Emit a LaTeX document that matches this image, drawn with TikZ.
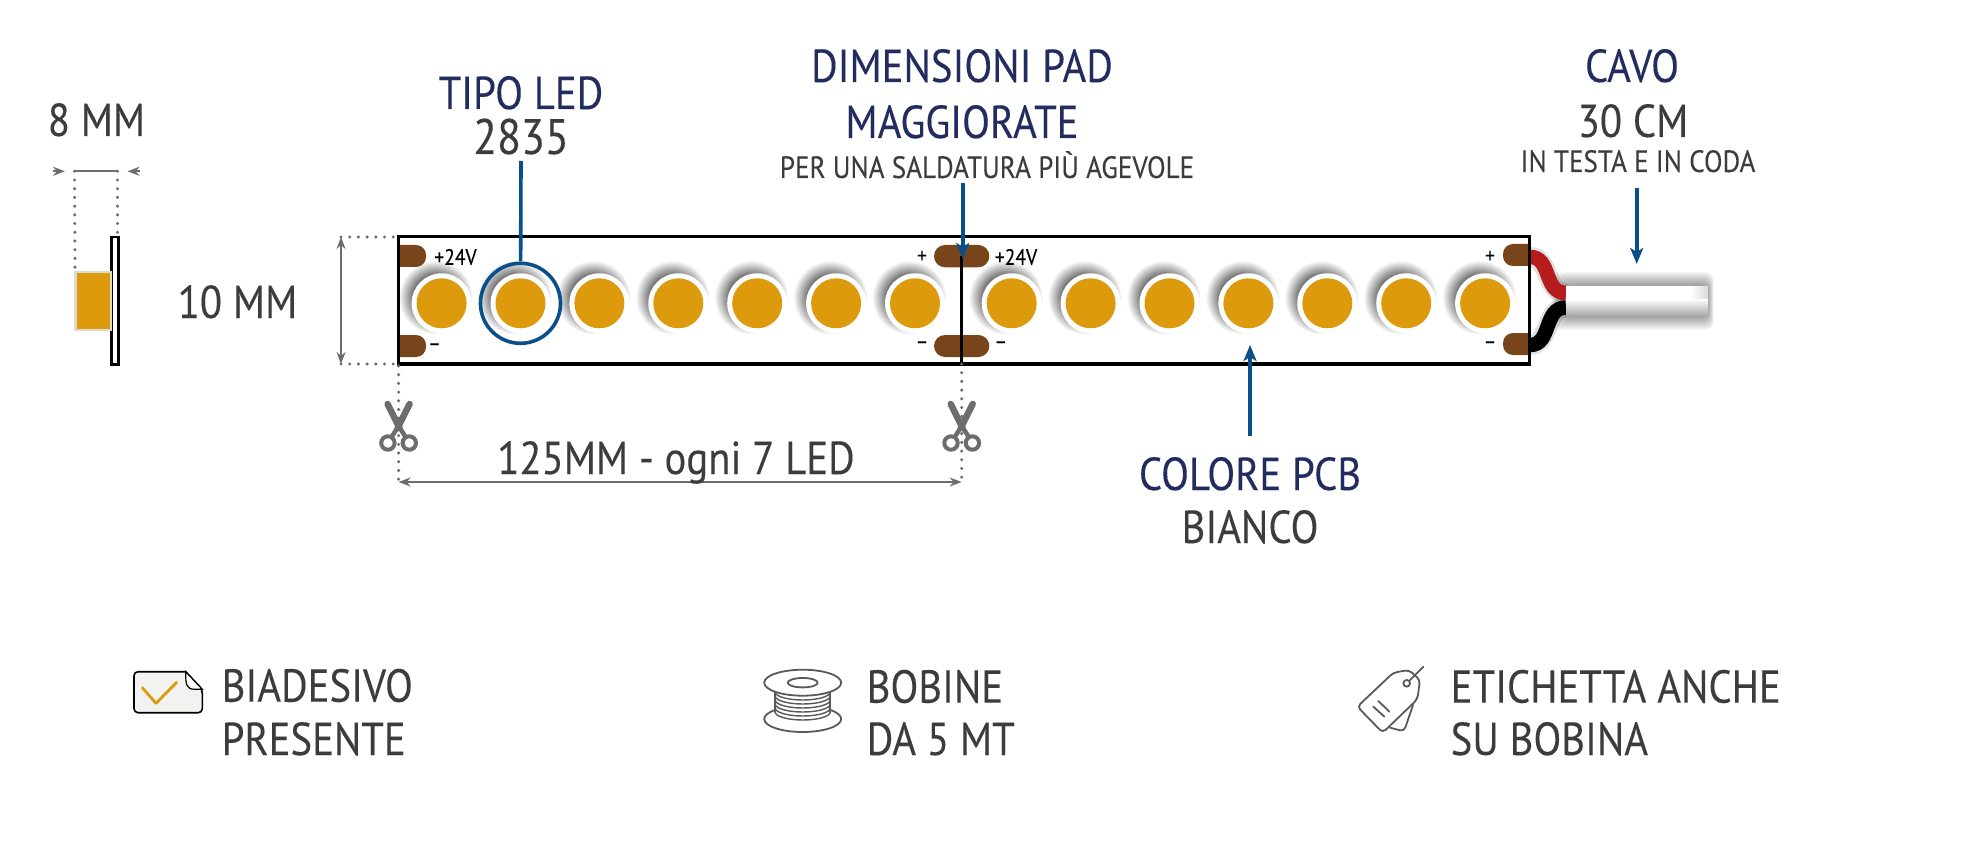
\documentclass[tikz,border=0pt]{standalone}
\usepackage{fontspec}
\usepackage{tikz}
\usetikzlibrary{arrows.meta}
\setmainfont{PT Sans}[FakeStretch=0.88,FakeBold=0.12]
\definecolor{ledyellow}{HTML}{DC9A0C}
\definecolor{ledborder}{HTML}{DDDDCC}
\definecolor{padbrown}{HTML}{774519}
\definecolor{linkblue}{HTML}{0B4F8A}
\definecolor{titlenavy}{HTML}{232C5E}
\definecolor{textgray}{HTML}{3C3C3B}
\definecolor{dimgray}{HTML}{6D6D6D}
\definecolor{wirered}{HTML}{B71C1C}
\definecolor{stickerfill}{HTML}{F2F2F0}
\definecolor{glowgray}{HTML}{606060}
\pgfdeclareradialshading{ledglow}{\pgfpointorigin}{color(0bp)=(glowgray); color(14bp)=(glowgray); color(25bp)=(white); color(50bp)=(white)}

\tikzset{
	bigtext/.style={anchor=base,inner sep=0pt,text=textgray,font=\fontsize{13.15}{15}\selectfont},
	titletext/.style={bigtext,text=titlenavy,font=\fontsize{13.15}{15}\selectfont},
	codetext/.style={bigtext,font=\fontsize{14.2}{16}\selectfont},
	smalltext/.style={bigtext,font=\fontsize{8.75}{10}\selectfont},
	sidetext/.style={bigtext,anchor=base west},
	tinytext/.style={anchor=center,inner sep=0pt,text=black,font=\fontsize{6.3}{7}\selectfont},
	bluelink/.style={linkblue,line width=0.036cm},
	bluearrow/.style={bluelink,-{Stealth[length=0.16cm,width=0.13cm,inset=0.04cm]}},
	dimline/.style={dimgray,line width=0.02cm},
	dimarrow/.style={dimline,{Stealth[length=0.12cm,width=0.09cm]}-{Stealth[length=0.12cm,width=0.09cm]}},
	dimdots/.style={dimgray,line width=0.034cm,line cap=round,dash pattern=on 0pt off 0.087cm},
	iconline/.style={textgray!85,line width=0.018cm,line cap=round,line join=round},
}

\begin{document}
\begin{tikzpicture}[x=0.01cm,y=-0.01cm]

\newcommand{\drawLed}%
{
	\shade[shading=ledglow] (-6,-6) circle (37);
	\fill[white] (0,0) circle (30);
	\fill[ledyellow] (0,0) circle (25);
}

\newcommand{\drawScissors}%
{
	\draw[dimgray,line width=0.065cm,line cap=round] (-11,4) -- (1,28);% Left Blade
	\draw[dimgray,line width=0.065cm,line cap=round] (11,4) -- (-1,28);% Right Blade
	\draw[dimgray,line width=0.045cm] (0,26) -- (7,37);
	\draw[dimgray,line width=0.045cm] (0,26) -- (-7,37);
	\draw[dimgray,line width=0.04cm] (10.7,43) circle (6.7);
	\draw[dimgray,line width=0.04cm] (-10.7,43) circle (6.7);
}

\useasboundingbox (0,0) rectangle (1980,846);

% Side view
\coordinate (sideleft) at (74.5,171.3);
\coordinate (sideright) at (117.5,171.3);
\coordinate (sidearrowa) at (52.5,171.3);
\coordinate (sidearrowb) at (65,171.3);
\coordinate (sidearrowc) at (140,171.3);
\coordinate (sidearrowd) at (127.5,171.3);
\coordinate (ledtop) at (75,268);
\coordinate (bartop) at (117.5,235);
\draw[black,line width=0.024cm] (111.5,237) rectangle (118.5,364.5);
\draw[ledborder,line width=0.028cm,fill=ledyellow] (75.5,272) rectangle (111,330);
\draw[dimline] (sideleft) -- (sideright);
\draw[dimline,-{Stealth[length=0.12cm,width=0.09cm]}] (sidearrowa) -- (sidearrowb);
\draw[dimline,-{Stealth[length=0.12cm,width=0.09cm]}] (sidearrowc) -- (sidearrowd);
\draw[dimdots] (sideleft) -- (ledtop);
\draw[dimdots] (sideright) -- (bartop);
\node[bigtext] (sidewidth) at (96.5,136) {8 MM};
\node[bigtext] (stripheight) at (237.5,318) {10 MM};

% LEDs
\foreach \groupx in {441.6,1011.7}{
	\foreach \n in {0,...,6}{
		\begin{scope}[shift={(\groupx+\n*78.9,303.3)}]
		\drawLed
		\end{scope}
	}
}

% Pads
\fill[padbrown] (399,245) [rounded corners=0.1cm] -- (426,245) -- (426,267) [sharp corners] -- (399,267) -- cycle;
\fill[padbrown] (399,335) [rounded corners=0.1cm] -- (426,335) -- (426,357) [sharp corners] -- (399,357) -- cycle;
\fill[padbrown,rounded corners=0.11cm] (934,245) rectangle (989.3,267.3);
\fill[padbrown,rounded corners=0.11cm] (934,335) rectangle (989.3,357);
\fill[padbrown] (1530,244) [rounded corners=0.1cm] -- (1503,244) -- (1503,266) [sharp corners] -- (1530,266) -- cycle;
\fill[padbrown] (1530,333) [rounded corners=0.1cm] -- (1503,333) -- (1503,355) [sharp corners] -- (1530,355) -- cycle;

% Cable shadow
\foreach \g in {1,...,14}{
	\fill[black,opacity=0.03,rounded corners=0.08cm] (1566-\g,286-\g) rectangle (1708+\g*0.4,316+\g);
}
\draw[black,opacity=0.12,line width=0.2cm] (1530,257) .. controls (1550,257) and (1545,293) .. (1566,293);
\draw[black,opacity=0.12,line width=0.2cm] (1530,345) .. controls (1550,345) and (1545,307.5) .. (1566,307.5);
\draw[wirered,line width=0.145cm] (1530,257) .. controls (1552,257) and (1543,293) .. (1566,293);
\draw[black,line width=0.145cm] (1530,345) .. controls (1552,345) and (1543,307.5) .. (1566,307.5);
\fill[white] (1566,286) rectangle (1708,300);
\shade[top color=white,bottom color=black!35] (1566,299) rectangle (1708,316);
\shade[left color=white,right color=black!14] (1690,287) rectangle (1708,299);

% Strip outline
\coordinate (stripa) at (398.6,237);
\coordinate (stripb) at (398.6,364);
\coordinate (stripc) at (1529,364);
\coordinate (stripd) at (1529,237);
\coordinate (cutmid) at (961.7,364);
\coordinate (cuttop) at (961.7,256);
\draw[black,line width=0.03cm] (stripa) -- (stripd) -- (stripc) -- (stripb) -- cycle;
\draw[black,line width=0.03cm] (cuttop) -- (cutmid);

% Pad texts
\node[tinytext] (pluslabela) at (455.5,257) {+24V};
\node[tinytext] (minuslabela) at (434.5,347) {--};
\node[tinytext] (pluslabelb) at (922,257) {+};
\node[tinytext] (minuslabelb) at (922,345) {--};
\node[tinytext] (pluslabelc) at (1016,257) {+24V};
\node[tinytext] (minuslabelc) at (1000.7,345) {--};
\node[tinytext] (pluslabeld) at (1490,257) {+};
\node[tinytext] (minuslabeld) at (1490,345) {--};

% Height and cut lines
\coordinate (heighttop) at (341,237);
\coordinate (heightbot) at (341,364);
\coordinate (cutlefttop) at (398.6,366);
\coordinate (cutleftbot) at (398.6,482);
\coordinate (cutmidbot) at (961.7,482);
\draw[dimdots] (heighttop) -- (stripa);
\draw[dimdots] (heightbot) -- (stripb);
\draw[dimarrow] (heighttop) -- (heightbot);
\draw[dimdots] (cutlefttop) -- (cutleftbot);
\draw[dimdots] (cutmid) -- (cutmidbot);
\draw[dimarrow] (cutleftbot) -- (cutmidbot);
\begin{scope}[shift={(398.6,400)}]
\drawScissors
\end{scope}
\begin{scope}[shift={(961.7,400)}]
\drawScissors
\end{scope}
\node[bigtext] (pitchlabel) at (676,474) {125MM - ogni 7 LED};

% Callouts
\node[titletext] (ledtype) at (521,109) {TIPO LED};
\node[codetext] (ledcode) at (521,154) {2835};
\node[circle,draw=linkblue,line width=0.036cm,minimum size=0.8cm,inner sep=0pt] (ledring) at (520.5,303.3) {};
\coordinate (ledlink) at (521,161);
\draw[bluelink] (ledlink) -- (ledring);

\node[titletext] (padtitle) at (962,82) {DIMENSIONI PAD};
\node[titletext] (padtitleb) at (962,138) {MAGGIORATE};
\node[smalltext] (padnote) at (987,178) {PER UNA SALDATURA PIÙ AGEVOLE};
\coordinate (padlink) at (962.7,183);
\coordinate (padtip) at (962.7,259);
\draw[bluearrow] (padlink) -- (padtip);

\node[titletext] (cabletitle) at (1632,82) {CAVO};
\node[bigtext] (cablelength) at (1633,137) {30 CM};
\node[smalltext] (cablenote) at (1638,172) {IN TESTA E IN CODA};
\coordinate (cablelink) at (1636.7,188);
\coordinate (cabletip) at (1636.7,264);
\draw[bluearrow] (cablelink) -- (cabletip);

\node[titletext] (pcbtitle) at (1250,490) {COLORE PCB};
\node[bigtext] (pcbcolor) at (1250,543) {BIANCO};
\coordinate (pcblink) at (1250,436);
\coordinate (pcbtip) at (1250,345);
\draw[bluearrow] (pcblink) -- (pcbtip);

% Sticker icon
\draw[black,line width=0.016cm,fill=stickerfill,rounded corners=0.04cm] (185.7,671.7) -- (134,671.7) -- (134,712.7) -- (202.3,712.7) -- (202.3,689.3) [sharp corners] -- cycle;
\draw[black,line width=0.012cm,fill=white] (185.7,671.7) .. controls (185.7,684) and (186,689.3) .. (195,689.3) -- (202.3,689.3) -- cycle;
\draw[ledyellow,line width=0.028cm,line cap=round,line join=round] (142.3,687.7) -- (156,703.3) -- (176.7,682.3);
\node[sidetext] (tapetext) at (221,701.7) {BIADESIVO};
\node[sidetext] (tapetextb) at (221,755) {PRESENTE};

% Reel icon
\begin{scope}[shift={(802.7,0)}]
\draw[iconline] (0,719) ellipse (38.5 and 13);
\foreach \w in {5,4,...,0}{
	\draw[iconline,line width=0.014cm,fill=white] (-27.5,692+\w*4) arc (180:0:27.5 and 8);
}
\draw[iconline] (-27.5,692) -- (-27.5,712);
\draw[iconline] (27.5,692) -- (27.5,712);
\draw[iconline,fill=white] (0,682.7) ellipse (38.5 and 13);
\draw[iconline] (0,682.7) ellipse (15 and 4.7);
\end{scope}
\node[sidetext] (reeltext) at (866,702.7) {BOBINE};
\node[sidetext] (reeltextb) at (866,755) {DA 5 MT};

% Tag icon
\begin{scope}[shift={(1340,650)},scale=1/3]
\draw[iconline,rounded corners=0.04cm] (160,68) -- (207,60) -- (240,90) -- (232,148) -- (128,248) -- (52,170) -- cycle;
\draw[iconline,rounded corners=0.04cm] (219,165) -- (192,244) -- (150,233);
\draw[iconline] (200,100) circle (10);
\draw[iconline] (208,92) -- (250,50);
\draw[iconline] (115,153) -- (148,185);
\draw[iconline] (100,170) -- (133,200);
\end{scope}
\node[sidetext] (tagtext) at (1450,702.7) {ETICHETTA ANCHE};
\node[sidetext] (tagtextb) at (1450,755) {SU BOBINA};

\end{tikzpicture}
\end{document}
